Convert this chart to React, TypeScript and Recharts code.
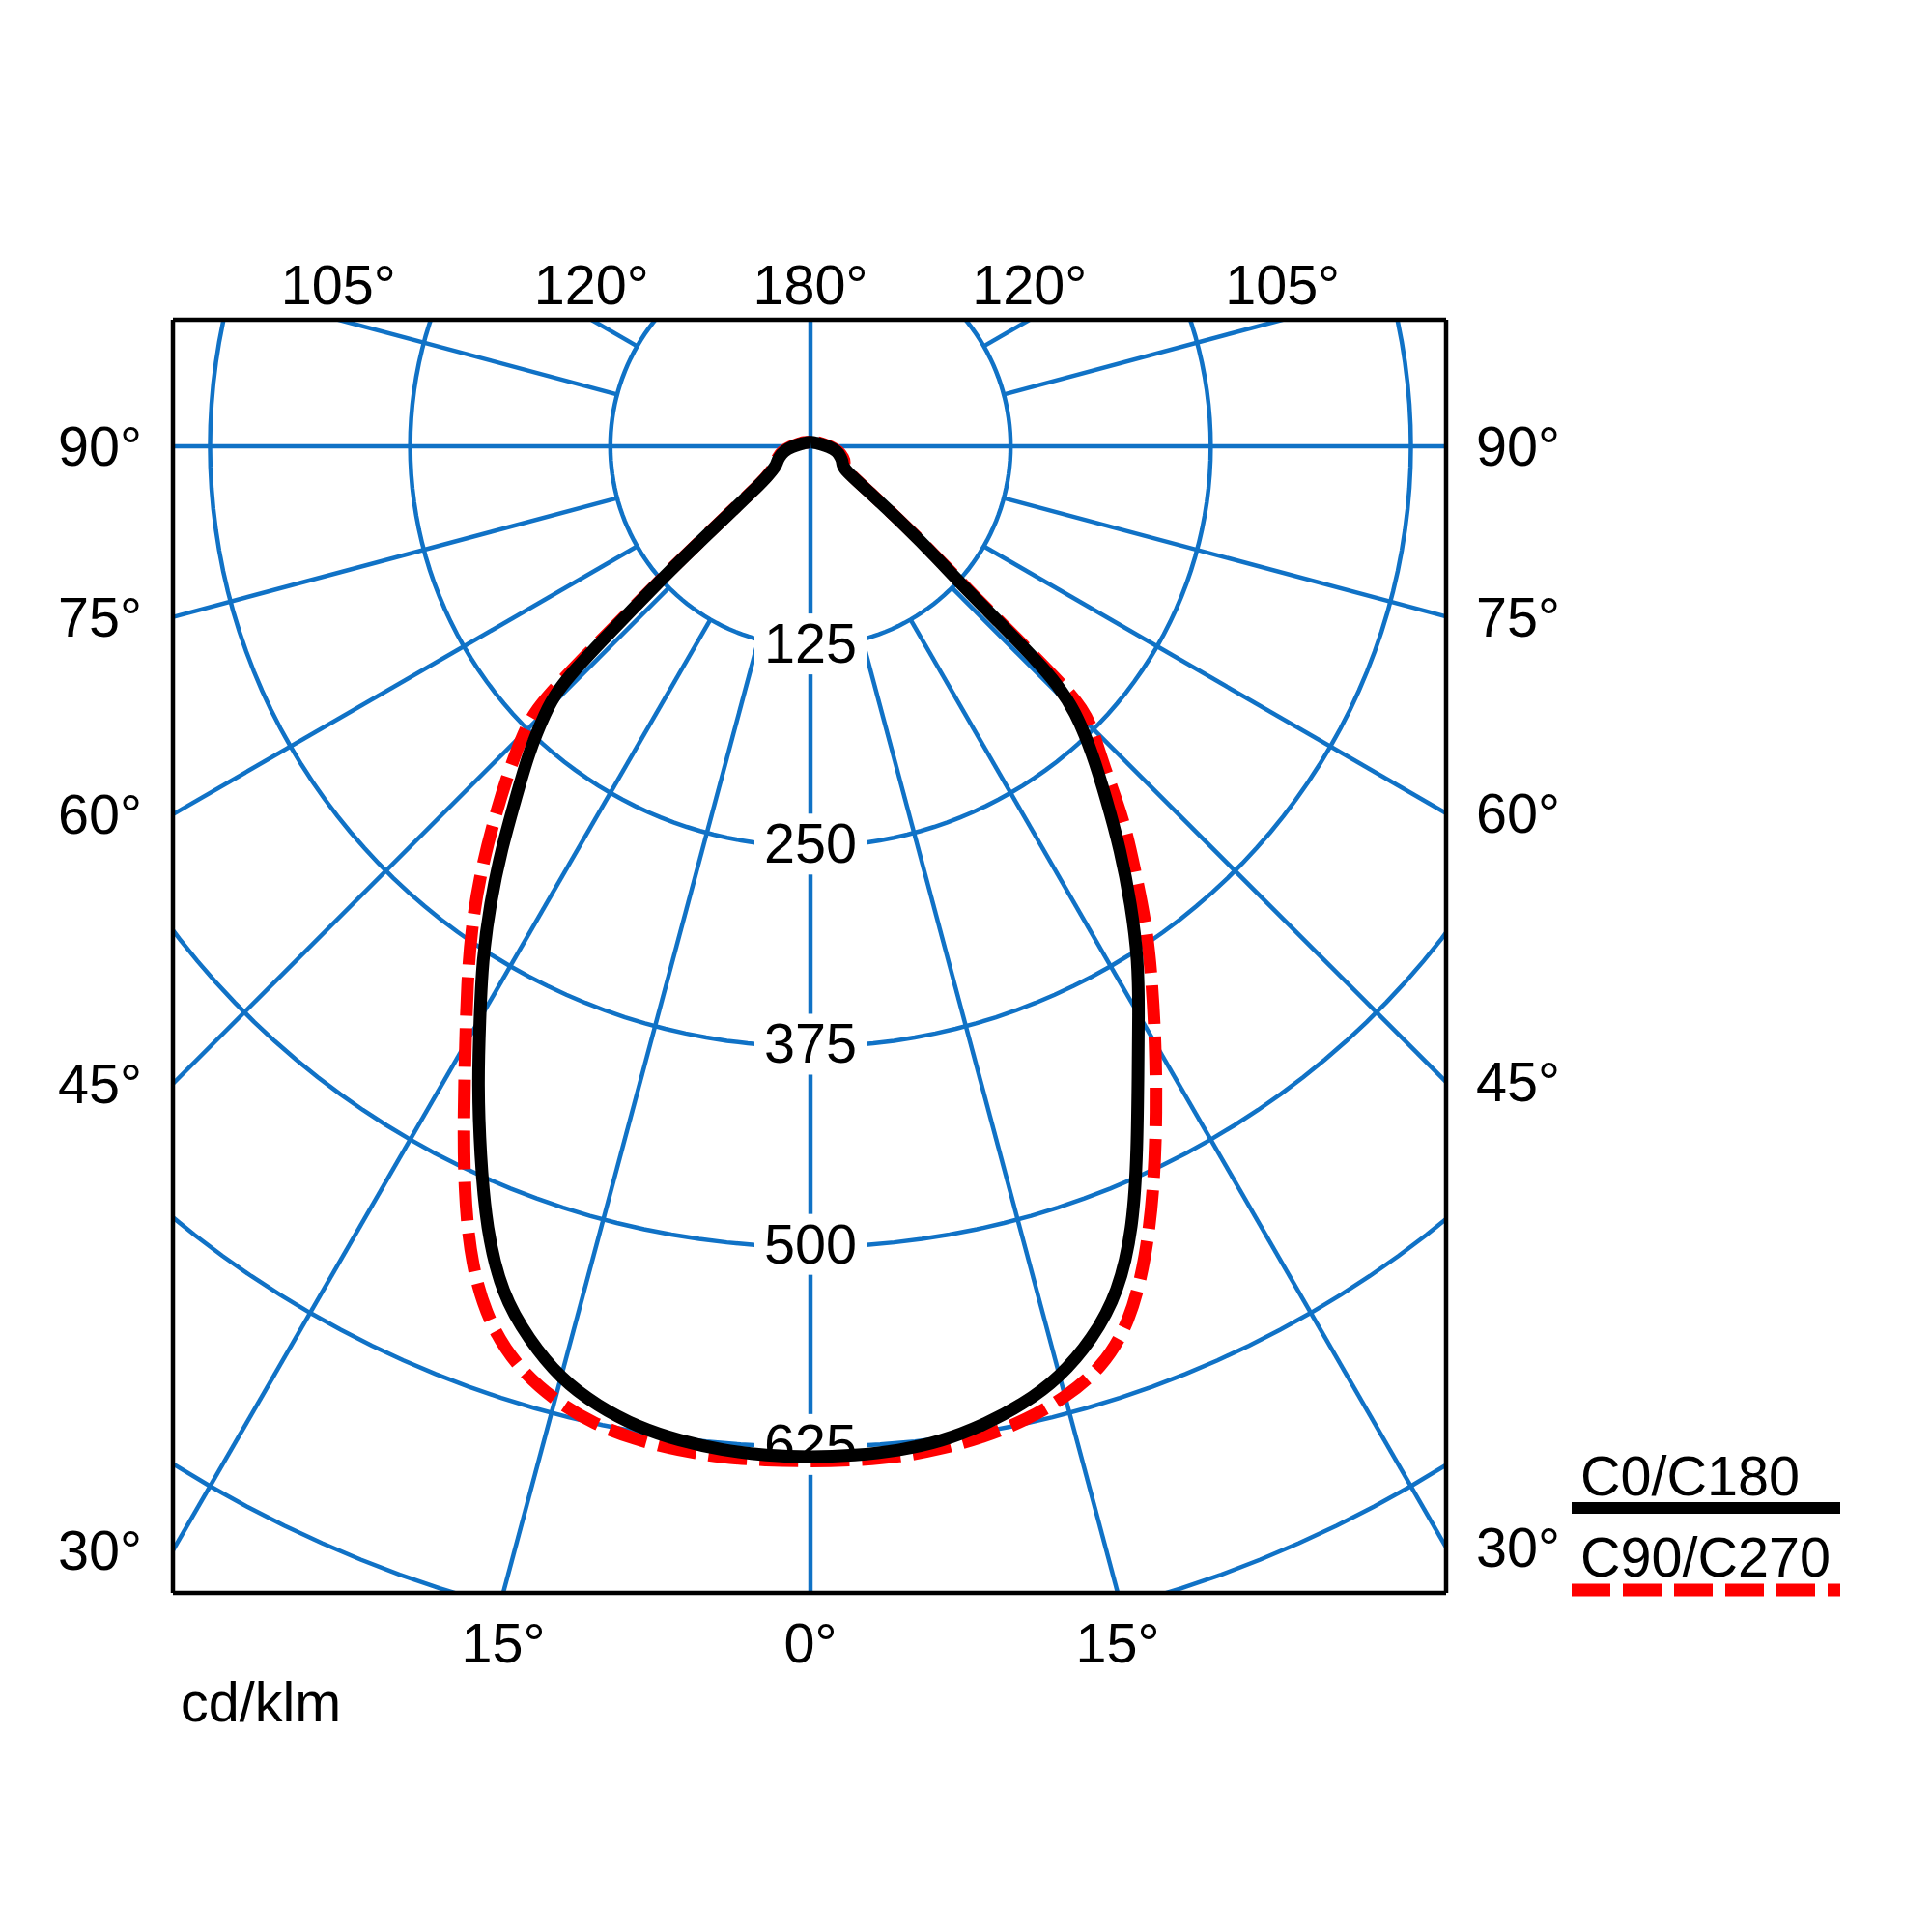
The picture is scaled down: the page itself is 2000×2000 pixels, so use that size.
import React from 'react';
import { ComposedChart, Line, XAxis, YAxis } from 'recharts';

const FONT = '"Liberation Sans", Arial, Helvetica, sans-serif';
const GRID_BLUE = '#1072c6';
const FONT_SIZE = 57.5;

// gamma = angle from nadir (deg), intensities in cd/klm
const gammaAngles = [0, 2.5, 5, 7.5, 10, 12.5, 15, 17.5, 20, 22.5, 25, 27.5, 30, 32.5, 35, 37.5, 40, 42.5, 45, 46, 46.5, 47, 47.5, 48.5, 50, 52.5, 55, 60, 65, 70, 80, 90, 100, 110, 120, 150, 180];
// C0/C180 plane (black) – right half C0, left half C180
const c0 = [631.5, 631, 629.8, 627, 621, 613, 602, 585, 562.5, 527, 483, 443, 410, 381, 349, 318, 287.5, 261, 234, 214, 197, 160, 129, 106, 78, 42, 27, 23, 22, 20, 17, 11, 7, 5, 4, 3, 2.5];
const c180 = [631.5, 631, 629.5, 626.5, 622, 614, 603, 585, 563.5, 529, 488, 450, 413, 381.5, 349, 317, 286, 261, 234, 219, 203, 178, 150, 118, 72, 42, 33, 25, 23, 21, 17, 11, 7, 5, 4, 3, 2.5];
// C90/C270 plane (red dashed) – right half C90, left half C270
const c90 = [634, 634, 633.7, 631.5, 628, 623, 615, 604, 583, 548, 508, 468, 431, 397, 366, 332.5, 304.5, 271, 249, 236, 220, 180, 138, 110, 80, 44, 29, 24, 23.5, 22, 18, 12, 8, 6, 5, 3, 2.5];
const c270 = [634, 634, 634, 632.5, 630, 625.5, 617, 604.5, 585, 554, 512, 469, 431, 399, 369.5, 339.5, 309, 281, 254, 240, 225, 195, 158, 121, 75, 44, 34, 26, 24, 22, 18, 12, 8, 6, 5, 3, 2.5];

// polar grid
const ringValues = [125, 250, 375, 500, 625, 750];
const ringLabelValues = [125, 250, 375, 500, 625];
const spokeAngles = [15, 30, 45, 60, 75, 105, 120, 135, 150, 165];

// angle labels round the frame (side: -1 left half, 1 right half)
const topLabels = [
  { angle: 105, side: -1 },
  { angle: 120, side: -1 },
  { angle: 180, side: 0 },
  { angle: 120, side: 1 },
  { angle: 105, side: 1 },
];
const bottomLabels = [
  { angle: 15, side: -1 },
  { angle: 0, side: 0 },
  { angle: 15, side: 1 },
];
const sideLabels = [90, 75, 60, 45, 30];

// visible window of the diagram in cd/klm
const X_MIN = -398.2;
const X_MAX = 397;
const Y_MIN = -716.2;
const Y_MAX = 79;

const rad = (d: number) => (d * Math.PI) / 180;
const polar = (gamma: number, r: number, side: number) => ({
  x: side * r * Math.sin(rad(gamma)),
  y: -r * Math.cos(rad(gamma)),
});

// left half from 180° down to nadir, then right half back up to 180°
const planeCurve = (left: number[], right: number[]) => [
  ...gammaAngles.map((g, i) => polar(g, left[i], -1)).reverse(),
  ...gammaAngles.map((g, i) => polar(g, right[i], 1)).slice(1),
];

const blackCurve = planeCurve(c180, c0);
const redCurve = planeCurve(c270, c90);

const rings = ringValues.map((r) =>
  Array.from({ length: 181 }, (_, k) => ({ x: r * Math.cos(rad(k * 2)), y: r * Math.sin(rad(k * 2)) }))
);
const spokes = spokeAngles.flatMap((a) => [-1, 1].map((s) => [polar(a, 125, s), polar(a, 1200, s)]));
const axisLines = [
  [{ x: 0, y: 200 }, { x: 0, y: -1200 }],
  [{ x: -600, y: 0 }, { x: 600, y: 0 }],
];
const ringLabelData = ringLabelValues.map((v) => ({ x: 0, y: -v, label: String(v) }));

const topTicks = topLabels.map((t) => (t.side === 0 ? 0 : t.side * Y_MAX * Math.tan(rad(180 - t.angle))));
const bottomTicks = bottomLabels.map((t) => (t.side === 0 ? 0 : t.side * -Y_MIN * Math.tan(rad(t.angle))));
const leftTicks = sideLabels.map((a) => (a === 90 ? 0 : (X_MIN * Math.cos(rad(a))) / Math.sin(rad(a))));
const rightTicks = sideLabels.map((a) => (a === 90 ? 0 : (-X_MAX * Math.cos(rad(a))) / Math.sin(rad(a))));

const tickStyle = { fill: '#000', fontSize: FONT_SIZE, fontFamily: FONT };
const frame = { stroke: '#000', strokeWidth: 4.5 };

const renderRingLabel = (props: any) => {
  const { cx, cy, payload, index } = props;
  return (
    <g key={`ring-label-${index}`}>
      <rect x={cx - 58} y={cy - 34} width={116} height={63} fill="#fff" />
      <text x={cx} y={cy + 17} textAnchor="middle" fontSize={FONT_SIZE} fontFamily={FONT} fill="#000">
        {payload.label}
      </text>
    </g>
  );
};

const LegendBox = () => (
  <svg width={320} height={180} style={{ position: 'absolute', left: 1610, top: 1490 }}>
    <text x={26} y={58} fontSize={FONT_SIZE} fontFamily={FONT} fill="#000">C0/C180</text>
    <line x1={17} x2={295} y1={71} y2={71} stroke="#000" strokeWidth={12} />
    <text x={26} y={142} fontSize={FONT_SIZE} fontFamily={FONT} fill="#000">C90/C270</text>
    <line x1={17} x2={295} y1={156} y2={156} stroke="#ff0000" strokeWidth={13} strokeDasharray="40 13" />
  </svg>
);

export default function App() {
  const gridLine = (data: { x: number; y: number }[], key: string) => (
    <Line
      key={key}
      xAxisId="b"
      yAxisId="l"
      data={data}
      dataKey="y"
      type="linear"
      stroke={GRID_BLUE}
      strokeWidth={4.5}
      dot={false}
      activeDot={false}
      isAnimationActive={false}
      legendType="none"
    />
  );

  return (
    <div style={{ position: 'absolute', left: 0, top: 0, width: 2000, height: 2000, background: '#fff' }}>
      <ComposedChart width={2000} height={2000} margin={{ top: 231, right: 353, bottom: 210, left: 29 }}>
        <XAxis
          xAxisId="b"
          dataKey="x"
          type="number"
          orientation="bottom"
          domain={[X_MIN, X_MAX]}
          allowDataOverflow
          height={141}
          ticks={bottomTicks}
          interval={0}
          tickFormatter={(_v: number, i: number) => `${bottomLabels[i].angle}°`}
          tickLine={false}
          tickSize={0}
          tickMargin={31}
          axisLine={frame}
          tick={tickStyle}
          label={{ value: 'cd/klm', position: 'insideBottomLeft', offset: 8, fill: '#000', fontSize: FONT_SIZE, fontFamily: FONT }}
        />
        <XAxis
          xAxisId="t"
          dataKey="x"
          type="number"
          orientation="top"
          domain={[X_MIN, X_MAX]}
          allowDataOverflow
          height={100}
          ticks={topTicks}
          interval={0}
          tickFormatter={(_v: number, i: number) => `${topLabels[i].angle}°`}
          tickLine={false}
          tickSize={0}
          tickMargin={16}
          axisLine={frame}
          tick={tickStyle}
        />
        <YAxis
          yAxisId="l"
          dataKey="y"
          type="number"
          orientation="left"
          domain={[Y_MIN, Y_MAX]}
          allowDataOverflow
          width={150}
          ticks={leftTicks}
          interval={0}
          tickFormatter={(_v: number, i: number) => `${sideLabels[i]}°`}
          tickLine={false}
          tickSize={0}
          tickMargin={32}
          axisLine={frame}
          tick={tickStyle}
        />
        <YAxis
          yAxisId="r"
          dataKey="y"
          type="number"
          orientation="right"
          domain={[Y_MIN, Y_MAX]}
          allowDataOverflow
          width={150}
          ticks={rightTicks}
          interval={0}
          tickFormatter={(_v: number, i: number) => `${sideLabels[i]}°`}
          tickLine={false}
          tickSize={0}
          tickMargin={31}
          axisLine={frame}
          tick={tickStyle}
        />

        {rings.map((d, i) => gridLine(d, `ring-${i}`))}
        {spokes.map((d, i) => gridLine(d, `spoke-${i}`))}
        {axisLines.map((d, i) => gridLine(d, `axis-${i}`))}

        <Line
          xAxisId="b"
          yAxisId="l"
          data={ringLabelData}
          dataKey="y"
          stroke="none"
          dot={renderRingLabel}
          activeDot={false}
          isAnimationActive={false}
          legendType="none"
        />

        <Line
          xAxisId="b"
          yAxisId="l"
          data={redCurve}
          dataKey="y"
          type="basis"
          stroke="#ff0000"
          strokeWidth={13}
          strokeDasharray="40 13"
          dot={false}
          activeDot={false}
          isAnimationActive={false}
          legendType="none"
          zIndex={1500}
        />
        <Line
          xAxisId="b"
          yAxisId="l"
          data={blackCurve}
          dataKey="y"
          type="basis"
          stroke="#000"
          strokeWidth={13}
          strokeLinejoin="round"
          dot={false}
          activeDot={false}
          isAnimationActive={false}
          legendType="none"
          zIndex={1600}
        />
      </ComposedChart>
      <LegendBox />
    </div>
  );
}
